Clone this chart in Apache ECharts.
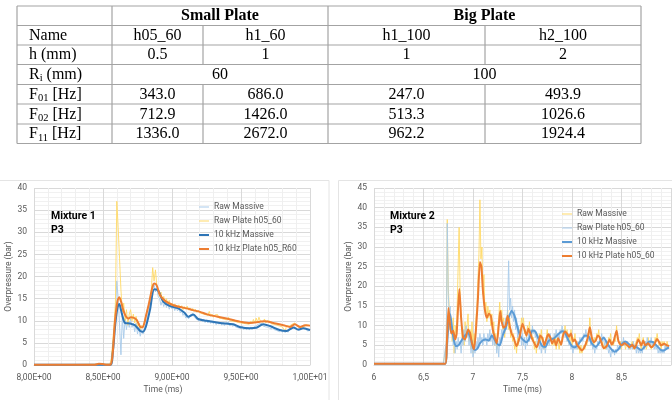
<html style="height: 100%">
<head>
	<meta charset="utf-8">
	<script type="text/javascript" src="https://cdn.jsdelivr.net/npm/echarts@6/dist/echarts.min.js"></script>
</head>

<body style="height: 100%; margin: 0; background: #fff">
	<div id="container" style="height:400px;width:672px"></div>
</body>

<script type="text/javascript">
	// ---- table values ----
	const groupNames = ['Small Plate', 'Big Plate'];
	const rowLabels = ['Name', 'h (mm)', '{n|R}{s|i}{n| (mm)}', '{n|F}{s|01}{n| [Hz]}', '{n|F}{s|02}{n| [Hz]}', '{n|F}{s|11}{n| [Hz]}'];
	const plateNames = ['h05_60', 'h1_60', 'h1_100', 'h2_100'];
	const thickness = ['0.5', '1', '1', '2'];
	const innerRadius = ['60', '100'];
	const f01 = ['343.0', '686.0', '247.0', '493.9'];
	const f02 = ['712.9', '1426.0', '513.3', '1026.6'];
	const f11 = ['1336.0', '2672.0', '962.2', '1924.4'];

	// ---- Mixture 1 (time in ms, overpressure in bar) ----
	const m1RawT0 = 8.55;
	const rawDt = 0.01;
	const m1RawMassive = [
		0, 1, 4, 8, 12, 19, 15, 9, 2.3, 11,
		6, 10.5, 8, 10, 8.5, 10.5, 8.5, 9.5, 7.5, 9.5,
		7, 8.5, 6.5, 8, 7, 8.5, 9, 10.5, 12, 14,
		15.5, 17, 18.5, 16.5, 17.5, 15.5, 15, 13.5, 14.5, 13.2,
		14.2, 13.0, 13.8, 12.6, 13.5, 12.7, 13.3, 12.3, 13.1, 12.2,
		12.9, 11.8, 12.3, 11.2, 11.7, 10.6, 11.2, 10.4, 11.3, 11.0,
		11.6, 10.9, 11.2, 10.3, 10.7, 9.9, 10.5, 9.8, 10.4, 9.6,
		10.2, 9.5, 10.1, 9.4, 10.0, 9.3, 9.8, 9.1, 9.7, 9.2,
		9.7, 9.0, 9.6, 8.9, 9.5, 9.1, 9.6, 8.8, 9.3, 8.7,
		9.2, 8.6, 9.0, 8.4, 8.8, 8.2, 8.7, 8.0, 8.5, 7.9,
		8.4, 7.9, 8.6, 8.0, 8.5, 8.2, 8.9, 8.6, 9.3, 8.9,
		9.4, 8.8, 9.2, 8.6, 9.0, 8.5, 8.8, 8.1, 8.6, 8.0,
		8.4, 7.8, 8.1, 7.5, 8.0, 7.4, 7.9, 7.3, 7.9, 7.4,
		7.9, 7.5, 8.2, 8.0, 8.6, 8.1, 8.5, 7.8, 8.3, 7.9,
		8.4, 8.0, 8.3, 7.7, 8.1, 7.8
	];
	const m1RawPlate = [
		0.2, 1.5, 5, 9, 14, 37, 31, 24, 17, 12,
		14, 10, 12.5, 9, 11.5, 12.5, 10, 11.5, 9.5, 11,
		8.5, 9.5, 8, 9, 8.5, 10, 11, 12.5, 13.5, 15,
		17, 22, 19, 21.5, 18, 17, 15.5, 16.5, 14.5, 15.5,
		14, 15, 13.8, 14.6, 13.2, 14, 13, 13.8, 13.4, 12.8,
		13.6, 12.9, 13.4, 12.5, 13.2, 12.6, 13.3, 12.4, 12.9, 12.3,
		12.8, 12.1, 12.6, 11.9, 12.4, 11.8, 12.2, 11.6, 12, 11.4,
		11.8, 11.2, 12.1, 11.0, 11.5, 10.8, 11.3, 10.9, 11.4, 10.6,
		11, 10.5, 10.9, 10.3, 10.7, 10.2, 10.8, 10.0, 10.4, 9.9,
		10.3, 9.8, 10.2, 9.6, 10, 9.5, 9.9, 9.4, 9.8, 9.3,
		9.7, 9.2, 9.9, 9.4, 10.3, 9.5, 10.6, 9.7, 10.8, 9.9,
		10.2, 9.7, 10.4, 9.5, 10, 9.6, 9.9, 9.3, 9.7, 9.2,
		9.6, 9.0, 9.4, 8.8, 9.2, 8.6, 9.0, 7.6, 8.9, 8.5,
		8.8, 8.4, 9.2, 8.9, 9.5, 9.0, 9.3, 8.6, 9.0, 8.5,
		8.9, 8.6, 9.1, 8.7, 9.0, 8.8
	];
	const m1FiltMassive = [
		[8.0, 0.05], [8.555, 0.05], [8.57, 2.5], [8.59, 9.5], [8.605, 13], [8.618, 13.8], [8.63, 12.5],
		[8.645, 10.6], [8.66, 9.5], [8.696, 9.4], [8.73, 9.0], [8.77, 7.7], [8.787, 7.5], [8.81, 8.6],
		[8.84, 12.4], [8.872, 17.1], [8.9, 16.8], [8.937, 14.3], [8.986, 13.3], [9.046, 12.8],
		[9.094, 11.7], [9.118, 10.9], [9.155, 11.4], [9.19, 10.4], [9.25, 10.0], [9.348, 9.5],
		[9.444, 9.2], [9.49, 8.6], [9.565, 8.3], [9.61, 8.4], [9.66, 9.2], [9.71, 8.8], [9.78, 7.9],
		[9.83, 7.7], [9.88, 8.5], [9.915, 8.0], [9.95, 8.3], [10, 7.9]
	];
	const m1FiltPlate = [
		[8.0, 0.05], [8.44, 0.05], [8.47, 0.3], [8.50, 0.2], [8.53, 0.05], [8.555, 0.1], [8.57, 2.5],
		[8.587, 10], [8.605, 14.5], [8.618, 15.3], [8.632, 14.2], [8.647, 12.4], [8.665, 11],
		[8.684, 10.5], [8.70, 10.8], [8.72, 10.7], [8.744, 10.2], [8.77, 8.6], [8.785, 8.5], [8.80, 9.5],
		[8.81, 10.9], [8.833, 13.9], [8.86, 17.8], [8.872, 18.4], [8.889, 18], [8.913, 15.8], [8.95, 14.5],
		[9.01, 13.5], [9.06, 13.1], [9.106, 12.8], [9.15, 12.4], [9.203, 12.0], [9.25, 11.5], [9.3, 11.1],
		[9.35, 10.8], [9.396, 10.5], [9.45, 10.1], [9.493, 9.8], [9.565, 9.5], [9.638, 9.8], [9.674, 9.9],
		[9.734, 9.5], [9.807, 9.0], [9.855, 8.6], [9.89, 9.2], [9.928, 8.6], [9.964, 9.0], [10, 8.9]
	];

	// ---- Mixture 2 ----
	const m2RawT0 = 6.70;
	const m2RawMassive = [
		0.3, 0.3, 0.5, 5, 37, 20, 14, 9, 11, 6,
		12, 3, 10, 7, 15, 25, 35, 18, 13, 7,
		9, 5, 11, 7, 10, 13, 6, 9, 4, 11,
		3, 8, 5, 12, 15, 22, 28, 42, 27, 30,
		18, 23, 14, 16, 11, 15, 12, 14, 10, 13,
		8, 11, 5, 8, 4, 9, 12, 16, 11, 14,
		9, 12, 7, 11, 10, 14, 9, 12, 7, 9,
		6, 8, 4, 6, 3, 7, 5, 9, 8, 12,
		10, 12, 8, 9, 7, 10, 8, 11, 7, 9,
		6, 7, 4, 6, 3, 6, 5, 8, 6, 9,
		6, 7, 4, 6, 7, 9, 6, 8, 6, 7,
		5, 7, 5, 8, 4, 7, 6, 4, 6, 5,
		7, 9, 8, 10, 7, 9, 6, 8, 6, 9,
		5, 7, 6, 8, 5, 6, 4, 5, 3, 5,
		3, 4, 5, 4, 6, 5, 8, 7, 12, 8,
		6, 7, 5, 7, 6, 8, 7, 9, 6, 7,
		5, 6, 4, 5, 4, 6, 5, 7, 6, 8,
		5, 6, 5, 7, 6, 10, 7, 6, 5, 6,
		4, 6, 5, 6, 4, 5, 6, 5, 4, 5,
		5, 6, 4, 5, 5, 6, 7, 6, 8, 5,
		4, 6, 7, 5, 6, 4, 5, 7, 5, 6,
		4, 5, 6, 5, 7, 6, 8, 6, 5, 6,
		4, 6, 5, 6, 5, 4, 6, 5, 5
	];
	const m2RawPlate = [
		0.3, 0.3, 0.8, 6, 36, 18, 13, 15, 8, 10,
		5, 7, 3, 6, 4, 7, 5, 6, 3, 7,
		5, 9, 6, 10, 7, 9, 5, 8, 3, 6,
		2, 5, 3, 6, 4, 7, 5, 8, 6, 7,
		5, 8, 6, 7, 5, 8, 6, 9, 6, 8,
		5, 8, 5, 7, 3, 6, 2, 7, 6, 9,
		7, 11, 8, 12, 9, 15, 26.5, 14, 17, 12,
		15, 11, 14, 9, 12, 7, 10, 6, 9, 5,
		8, 5, 7, 4, 7, 5, 8, 6, 9, 7,
		10, 8, 9, 7, 8, 5, 7, 4, 6, 3,
		5, 4, 6, 3, 5, 6, 7, 5, 8, 6,
		7, 6, 8, 7, 9, 7, 8, 6, 9, 8,
		10, 8, 9, 7, 8, 6, 7, 5, 6, 4,
		5, 3, 5, 4, 6, 4, 6, 5, 7, 6,
		7, 6, 8, 7, 9, 7, 8, 6, 7, 5,
		6, 4, 5, 3, 5, 4, 6, 5, 7, 6,
		8, 6, 7, 5, 6, 4, 5, 3, 4, 2,
		4, 3, 4, 2.5, 4, 3, 5, 4, 5, 4,
		6, 5, 7, 5, 6, 5, 6, 4, 5, 4,
		5, 4, 6, 4, 5, 3, 5, 3, 4, 3,
		4, 3, 5, 4, 6, 5, 7, 5, 6, 5,
		7, 5, 6, 4, 5, 4, 5, 3, 4, 3,
		4, 3, 4, 3, 5, 4, 5, 4, 5
	];
	const m2FiltMassive = [
		[6.0, 0.3], [6.72, 0.3], [6.735, 4], [6.755, 11], [6.77, 12.9], [6.79, 9], [6.81, 6], [6.83, 4.8],
		[6.86, 5.2], [6.89, 6.5], [6.92, 7.5], [6.95, 8.2], [6.98, 6.5], [7.0, 4.5], [7.02, 3.8], [7.045, 4.2],
		[7.07, 5.5], [7.1, 6.3], [7.13, 6.5], [7.16, 6.2], [7.19, 7.5], [7.21, 6.8], [7.24, 5.5], [7.27, 5],
		[7.3, 7.5], [7.33, 9.5], [7.36, 12], [7.39, 13.8], [7.42, 12.5], [7.45, 9.5], [7.48, 7.2], [7.51, 6.3],
		[7.54, 5.8], [7.57, 6.8], [7.6, 8.8], [7.63, 8.5], [7.66, 6.8], [7.7, 4.8], [7.73, 4.6], [7.76, 6],
		[7.79, 6.5], [7.82, 6.8], [7.86, 7.8], [7.9, 8.6], [7.93, 8.2], [7.96, 6.5], [8.0, 4.8], [8.03, 4.5],
		[8.06, 5.2], [8.1, 6.5], [8.13, 7.5], [8.17, 7.2], [8.2, 5.5], [8.24, 4.6], [8.28, 5.8], [8.32, 7],
		[8.35, 5.8], [8.39, 4.2], [8.43, 3.4], [8.47, 4], [8.5, 5.2], [8.54, 6], [8.58, 5.2], [8.62, 4.8],
		[8.66, 4.4], [8.7, 3.8], [8.74, 4.8], [8.78, 6], [8.82, 5.8], [8.86, 4.8], [8.9, 3.8], [8.93, 3.7],
		[8.96, 4.2], [8.98, 4.5]
	];
	const m2FiltPlate = [
		[6.0, 0.3], [6.72, 0.3], [6.735, 5], [6.752, 14.5], [6.765, 11], [6.78, 8], [6.8, 8.7], [6.82, 6.5],
		[6.835, 8], [6.862, 19.3], [6.88, 12], [6.9, 7], [6.92, 6.5], [6.95, 9], [6.97, 8.2], [6.99, 5.5],
		[7.01, 4], [7.03, 9], [7.05, 17], [7.07, 26.2], [7.085, 25], [7.1, 19], [7.12, 14], [7.14, 12],
		[7.16, 13], [7.18, 12.5], [7.2, 9], [7.22, 7], [7.24, 5.5], [7.26, 10], [7.275, 13.7], [7.29, 11],
		[7.31, 9.5], [7.33, 10], [7.35, 12.5], [7.37, 10], [7.39, 8], [7.41, 7], [7.44, 4.8], [7.47, 7],
		[7.5, 10.5], [7.52, 9], [7.54, 7.5], [7.56, 9.2], [7.58, 8], [7.6, 6.5], [7.62, 5.5], [7.64, 4.5],
		[7.66, 5.5], [7.68, 7.5], [7.7, 6.8], [7.72, 5], [7.74, 6.5], [7.76, 7.8], [7.78, 7], [7.8, 5.5],
		[7.82, 6.5], [7.84, 5], [7.86, 6.8], [7.89, 5.2], [7.91, 7.5], [7.93, 8.5], [7.95, 8], [7.97, 7.2],
		[7.99, 8], [8.01, 6], [8.03, 6.5], [8.05, 5.2], [8.08, 4.2], [8.1, 3.7], [8.13, 4.8], [8.16, 7],
		[8.18, 9.6], [8.2, 7], [8.22, 5.8], [8.24, 6.2], [8.26, 7.5], [8.28, 7], [8.3, 5.5], [8.32, 4.3],
		[8.35, 4.8], [8.38, 6.5], [8.4, 5.2], [8.42, 6], [8.45, 8.7], [8.47, 6], [8.5, 5], [8.53, 5.5],
		[8.56, 5], [8.58, 4.5], [8.61, 5.2], [8.63, 4.2], [8.65, 5.2], [8.67, 6.5], [8.7, 5], [8.72, 6.2],
		[8.74, 5], [8.77, 5.5], [8.8, 4.5], [8.83, 5.2], [8.86, 6.6], [8.88, 5.8], [8.9, 5], [8.93, 5.4],
		[8.96, 5], [8.98, 4.8]
	];

	var dom = document.getElementById("container");
	var myChart = echarts.init(dom, null, { renderer: 'canvas' });

	const BLUE1 = '#2e75b6', BLUE2 = '#5b9bd5', ORANGE = '#ed7d31';
	const RAWBLUE = '#a9cbea', RAWYELLOW = '#ffd966';
	const GREY = '#595959';
	const FONT = 'Roboto';
	const SERIF = '"Liberation Serif"';

	// table layout
	const colX = [17, 112, 203, 328, 485, 641];
	const rowY = [6, 25.5, 45, 64.5, 84.5, 104, 124, 143.5];

	function cellText(text, x, row, align, bold) {
		return {
			type: 'text', x: x, y: (rowY[row] + rowY[row + 1]) / 2 + 0.5, silent: true,
			style: {
				text: text, align: align, verticalAlign: 'middle', fill: '#000',
				font: (bold ? 'bold ' : '') + '16px ' + SERIF,
				rich: {
					n: { fontSize: 16, fontFamily: SERIF, lineHeight: 18, fill: '#000' },
					s: { fontSize: 10.5, fontFamily: SERIF, lineHeight: 10, verticalAlign: 'bottom', fill: '#000' }
				}
			}
		};
	}
	function hline(y, x1, x2) {
		return { type: 'line', silent: true, shape: { x1: x1, y1: y, x2: x2, y2: y }, style: { stroke: '#a3a3a3', lineWidth: 1.2 } };
	}
	function vline(x, y1, y2) {
		return { type: 'line', silent: true, shape: { x1: x, y1: y1, x2: x, y2: y2 }, style: { stroke: '#a3a3a3', lineWidth: 1.2 } };
	}

	let graphics = [];
	// chart area frames
	graphics.push({ type: 'rect', silent: true, shape: { x: -1, y: 180.5, width: 330, height: 240 }, style: { fill: null, stroke: '#e4e4e4', lineWidth: 1 } });
	graphics.push({ type: 'rect', silent: true, shape: { x: 338.5, y: 180.5, width: 340, height: 240 }, style: { fill: null, stroke: '#e4e4e4', lineWidth: 1 } });

	rowY.forEach(y => graphics.push(hline(y, colX[0], colX[5])));
	[0, 1, 3, 5].forEach(i => graphics.push(vline(colX[i], rowY[0], rowY[7])));
	[2, 4].forEach(i => {
		graphics.push(vline(colX[i], rowY[1], rowY[3]));
		graphics.push(vline(colX[i], rowY[4], rowY[7]));
	});

	graphics.push(cellText(groupNames[0], (colX[1] + colX[3]) / 2, 0, 'center', true));
	graphics.push(cellText(groupNames[1], (colX[3] + colX[5]) / 2, 0, 'center', true));
	rowLabels.forEach((t, r) => graphics.push(cellText(t, 29, r + 1, 'left', false)));
	[plateNames, thickness, null, f01, f02, f11].forEach((vals, r) => {
		if (!vals) return;
		vals.forEach((v, c) => graphics.push(cellText(v, (colX[c + 1] + colX[c + 2]) / 2, r + 1, 'center', false)));
	});
	graphics.push(cellText(innerRadius[0], (colX[1] + colX[3]) / 2, 3, 'center', false));
	graphics.push(cellText(innerRadius[1], (colX[3] + colX[5]) / 2, 3, 'center', false));

	// chart annotations (on top of the grid lines)
	graphics.push({ type: 'text', x: 51, y: 209, z: 100, silent: true, style: { text: 'Mixture 1\nP3', fill: '#000', font: 'bold 10.5px ' + FONT, lineHeight: 14 } });
	graphics.push({ type: 'text', x: 390, y: 209, z: 100, silent: true, style: { text: 'Mixture 2\nP3', fill: '#000', font: 'bold 10.5px ' + FONT, lineHeight: 14 } });

	function rawData(vals, t0, tStart, vStart) {
		return [[tStart, vStart]].concat(vals.map((v, i) => [+(t0 + i * rawDt).toFixed(3), v]));
	}

	function lineSeries(name, idx, data, color, width, smooth, opacity) {
		return {
			type: 'line', name: name, xAxisIndex: idx, yAxisIndex: idx, data: data,
			symbol: 'none', smooth: smooth, silent: true,
			lineStyle: { color: color, width: width, opacity: opacity },
			itemStyle: { color: color }
		};
	}

	function xAxisBase(idx, min, max, fmt, showMax) {
		return {
			gridIndex: idx, type: 'value', min: min, max: max, interval: 0.5,
			axisLine: { show: true, lineStyle: { color: '#d9d9d9' } },
			axisTick: { show: false },
			axisLabel: { color: GREY, fontSize: 8.5, fontFamily: FONT, margin: 8, formatter: fmt, showMaxLabel: showMax, hideOverlap: false },
			splitLine: { show: true, lineStyle: { color: '#d9d9d9', width: 1 } },
			minorTick: { show: false, splitNumber: 5 },
			minorSplitLine: { show: true, lineStyle: { color: '#efefef', width: 1 } },
			name: 'Time (ms)', nameLocation: 'middle', nameGap: 20,
			nameTextStyle: { color: GREY, fontSize: 8.5, fontFamily: FONT }
		};
	}
	function yAxisBase(idx, max) {
		return {
			gridIndex: idx, type: 'value', min: 0, max: max, interval: 5,
			axisLine: { show: false }, axisTick: { show: false },
			axisLabel: { color: GREY, fontSize: 8.5, fontFamily: FONT, margin: 7 },
			splitLine: { show: true, lineStyle: { color: '#d9d9d9', width: 1 } },
			minorTick: { show: false, splitNumber: 5 },
			minorSplitLine: { show: true, lineStyle: { color: '#f1f1f1', width: 1 } },
			name: 'Overpressure (bar)', nameLocation: 'middle', nameGap: 17,
			nameTextStyle: { color: GREY, fontSize: 8.5, fontFamily: FONT }
		};
	}

	function sciLabel(v) {
		if (v >= 10) return (v / 10).toFixed(2).replace('.', ',') + 'E+01';
		return v.toFixed(2).replace('.', ',') + 'E+00';
	}

	// legend icons: plain line strokes (thin for raw, thick for filtered)
	const thinIcon = 'path://M0,0H10V1H0Z';
	const thickIcon = 'path://M0,0H10V2H0Z';
	function legendItem(name, color, icon) {
		return { name: name, icon: icon, itemStyle: { color: color, borderWidth: 0 } };
	}
	const legendBase = {
		orient: 'vertical', padding: 0, itemWidth: 10, itemHeight: 9, itemGap: 5, symbolKeepAspect: true,
		textStyle: { color: GREY, fontSize: 8.5, fontFamily: FONT }, selectedMode: false
	};

	let x1 = xAxisBase(0, 8, 10, sciLabel, true);
	x1.nameTextStyle.padding = [0, 18, 0, 0];

	option = {
		animation: false,
		backgroundColor: '#fff',
		graphic: graphics,
		grid: [
			{ left: 34, top: 188, width: 276, height: 177 },
			{ left: 374, top: 188, width: 297, height: 177 }
		],
		xAxis: [x1, xAxisBase(1, 6, 9, v => String(v).replace('.', ','), false)],
		yAxis: [yAxisBase(0, 40), yAxisBase(1, 45)],
		legend: [
			Object.assign({}, legendBase, {
				left: 199, top: 202.5,
				data: [legendItem('Raw Massive', RAWBLUE, thinIcon), legendItem('Raw Plate h05_60', RAWYELLOW, thinIcon),
					legendItem('10 kHz Massive', BLUE1, thickIcon), legendItem('10 kHz Plate h05_R60', ORANGE, thickIcon)]
			}),
			Object.assign({}, legendBase, {
				left: 562, top: 209.5,
				data: [legendItem('Raw Massive', RAWYELLOW, thinIcon), legendItem('Raw Plate h05_60', RAWBLUE, thinIcon),
					legendItem('10 kHz Massive', BLUE2, thickIcon), legendItem('10 kHz Plate h05_60', ORANGE, thickIcon)]
			})
		],
		series: [
			lineSeries('Raw Massive', 0, rawData(m1RawMassive, m1RawT0, 8.0, 0), RAWBLUE, 1, false, 0.9),
			lineSeries('Raw Plate h05_60', 0, rawData(m1RawPlate, m1RawT0, 8.0, 0), RAWYELLOW, 1, false, 0.9),
			lineSeries('10 kHz Massive', 0, m1FiltMassive, BLUE1, 2, 0.3, 1),
			lineSeries('10 kHz Plate h05_R60', 0, m1FiltPlate, ORANGE, 2, 0.3, 1),
			lineSeries('Raw Massive', 1, rawData(m2RawMassive, m2RawT0, 6.0, 0.3), RAWYELLOW, 1, false, 0.9),
			lineSeries('Raw Plate h05_60', 1, rawData(m2RawPlate, m2RawT0, 6.0, 0.3), RAWBLUE, 1, false, 0.9),
			lineSeries('10 kHz Massive', 1, m2FiltMassive, BLUE2, 2, 0.2, 1),
			lineSeries('10 kHz Plate h05_60', 1, m2FiltPlate, ORANGE, 2, 0.2, 1)
		]
	};

	if (option && typeof option === 'object') {
		myChart.setOption(option);
	}
</script>

</html>
